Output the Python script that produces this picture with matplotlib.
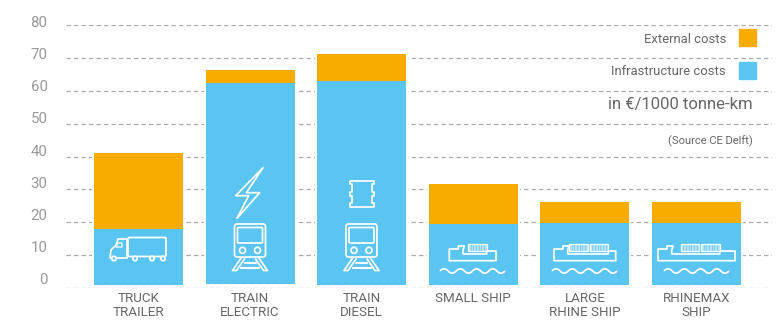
import matplotlib
matplotlib.use("Agg")
import matplotlib.pyplot as plt
import numpy as np
from matplotlib.patches import Circle, FancyBboxPatch, PathPatch, Polygon, Rectangle
from matplotlib.path import Path

plt.rcParams['font.family'] = ['Roboto', 'DejaVu Sans']

# data
categories = ['TRUCK\nTRAILER', 'TRAIN\nELECTRIC', 'TRAIN\nDIESEL', 'SMALL SHIP',
              'LARGE\nRHINE SHIP', 'RHINEMAX\nSHIP']
base = [0.9, 1.2, 0.9, 0.9, 0.9, 0.9]
infrastructure = [17.9, 62.3, 62.9, 19.5, 19.7, 19.7]
total = [41.0, 66.3, 71.1, 31.6, 26.1, 26.1]
y_ticks = [0, 10, 20, 30, 40, 50, 60, 70, 80]

ORANGE = '#F9AC00'
BLUE = '#5BC5F2'
TEXT = '#666666'

fig = plt.figure(figsize=(7.83, 3.22), dpi=100)
ax = fig.add_axes([66 / 783, 34 / 322, 706 / 783, 263 / 322])
ax.set_xlim(-0.65, 5.677)
ax.set_ylim(0, 80)

base = np.array(base)
infrastructure = np.array(infrastructure)
total = np.array(total)
x = np.arange(len(categories))

ax.set_yticks(y_ticks)
ax.set_yticklabels([])
ax.grid(axis='y', color='#aaaaaa', linestyle=(0, (3.5, 2.5)), linewidth=0.9)
ax.set_axisbelow(True)
ax.tick_params(length=0)
for s in ax.spines.values():
    s.set_visible(False)

# white halo cuts the gridlines next to each bar
ax.bar(x, total - base, bottom=base, width=0.83, color='white', zorder=2)
ax.bar(x, infrastructure - base, bottom=base, width=0.797, color=BLUE, zorder=3)
ax.bar(x, total - infrastructure, bottom=infrastructure, width=0.797, color=ORANGE, zorder=3)

ax.set_xticks(x)
ax.set_xticklabels(categories, fontsize=9.6, color=TEXT, linespacing=1.05)
ax.tick_params(axis='x', pad=3)

# overlay in pixels for y labels, legend and icons
ov = fig.add_axes([0, 0, 1, 1])
ov.set_xlim(0, 783)
ov.set_ylim(322, 0)
ov.axis('off')
ov.patch.set_alpha(0)

for v in y_ticks:
    ov.text(47.5, 280.5 - v * 3.225, str(v), ha='right', va='center', fontsize=10.8, color='#999999')

ov.text(726, 39, 'External costs', ha='right', va='center', fontsize=9.4, color=TEXT)
ov.text(726, 71, 'Infrastructure costs', ha='right', va='center', fontsize=9.4, color=TEXT)
ov.add_patch(Rectangle((739, 29), 17, 17, color=ORANGE))
ov.add_patch(Rectangle((739, 62), 17, 17, color=BLUE))
ov.text(753, 104, 'in €/1000 tonne-km', ha='right', va='center', fontsize=12, color=TEXT)
ov.text(753, 141, '(Source CE Delft)', ha='right', va='center', fontsize=8, color=TEXT)

LW = 1.25


def line(xs, ys, lw=LW):
    ov.plot(xs, ys, color='white', lw=lw, solid_capstyle='round', solid_joinstyle='round')


def outline(pts, lw=LW):
    ov.add_patch(Polygon(pts, closed=True, fill=False, edgecolor='white', lw=lw, joinstyle='round'))


def truck():
    ov.add_patch(FancyBboxPatch((128, 237.5), 38, 19, boxstyle='round,pad=0,rounding_size=1.5',
                                fill=False, edgecolor='white', lw=LW))
    outline([(127, 239), (118, 239), (116, 245), (111, 250), (110, 258), (127, 258)])
    outline([(118, 243), (122, 243), (122, 247), (116, 247)], lw=0.9)
    for cx in (114, 135, 152, 163):
        ov.add_patch(Circle((cx, 258.5), 2.2, facecolor=BLUE, edgecolor='white', lw=LW, zorder=4))


def train(cx):
    ov.add_patch(FancyBboxPatch((cx - 15.5, 224), 31, 33, boxstyle='round,pad=0,rounding_size=2.5',
                                fill=False, edgecolor='white', lw=LW))
    ov.add_patch(FancyBboxPatch((cx - 12.5, 227.5), 25, 15.5, boxstyle='round,pad=0,rounding_size=1',
                                fill=False, edgecolor='white', lw=LW))
    for dx in (-7.5, 7.5):
        ov.add_patch(Circle((cx + dx, 250.3), 3, fill=False, edgecolor='white', lw=LW))
    for sign in (-1, 1):
        line([cx + sign * 8.5, cx + sign * 17.5, cx + sign * 13.5, cx + sign * 5.5],
             [257.5, 270.5, 270.5, 259])
    line([cx - 5.5, cx + 5.5], [263, 263], lw=1.5)
    line([cx - 9, cx + 9], [268, 268], lw=1.5)


def bolt(cx, cy):
    pts = [(13.3, -25.3), (-14, 2.7), (-1, 2.7), (-12.7, 25.3), (10, -0.3), (-3.3, -0.3)]
    outline([(cx + a, cy + b) for a, b in pts], lw=1.25)


def barrel(cx, cy):
    pts = [(-12, -13), (12, -13), (12, -10), (10, -10), (10, -2), (12, -2), (12, 2), (10, 2),
           (10, 9.5), (12, 9.5), (12, 13.5), (-12, 13.5), (-12, 9.5), (-10, 9.5), (-10, 2),
           (-12, 2), (-12, -2), (-10, -2), (-10, -10), (-12, -10)]
    outline([(cx + a, cy + b) for a, b in pts])


def ship(left, right, cont_x, wave_x):
    outline([(left, 260.7), (left, 249), (left + 9, 249), (left + 9, 246), (left + 15, 246),
             (left + 13.5, 251), (left + 14, 254), (cont_x[-1] + 18.7, 254),
             (cont_x[-1] + 18.7, 251), (right, 251), (right, 260.7)])
    for c in cont_x:
        ov.add_patch(Rectangle((c, 243.5), 18.7, 7.5, facecolor='#b5e3f8', edgecolor='white', lw=0.9))
        for k in range(1, 7):
            ov.plot([c + k * 2.67] * 2, [245, 249.5], color='#6fcbf3', lw=0.6)
    verts = [(wave_x, 271)]
    codes = [Path.MOVETO]
    step = 65 / 8
    for k in range(8):
        ctrl_y = 266.5 if k % 2 == 0 else 275.5
        verts += [(wave_x + (k + 0.5) * step, ctrl_y), (wave_x + (k + 1) * step, 271)]
        codes += [Path.CURVE3, Path.CURVE3]
    ov.add_patch(PathPatch(Path(verts, codes), fill=False, edgecolor='white', lw=LW))


truck()
train(250)
train(361.5)
bolt(249.7, 193)
barrel(361.5, 193.5)
ship(449.3, 496, [468], 440)
ship(554, 615.7, [569, 589.5], 552)
ship(658, 735, [680.7, 701], 664)

fig.savefig('out.png', dpi=100)
